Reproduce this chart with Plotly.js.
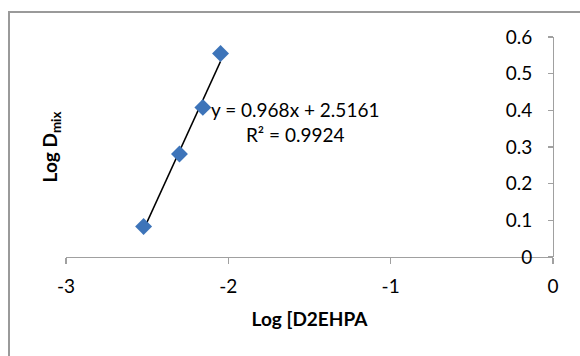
<!DOCTYPE html>
<html>
<head>
<meta charset="utf-8">
<script src="https://cdn.plot.ly/plotly-3.0.1.min.js"></script>
<style>
  html, body { margin: 0; padding: 0; width: 580px; height: 356px; overflow: hidden; background: #fff; }
  #frame { position: absolute; left: 8px; top: 11px; width: 620px; height: 400px; border: 2px solid #9a9a9a; box-sizing: border-box; }
  #chart { position: absolute; left: 0; top: 0; width: 580px; height: 356px; }
</style>
</head>
<body>
<div id="frame"></div>
<div id="chart"></div>
<script>
// Data
const logD2EHPA = [-2.522, -2.301, -2.157, -2.048];
const logDmix = [0.083, 0.281, 0.408, 0.555];
// Linear trendline shown on the chart
const trendSlope = 0.968;
const trendIntercept = 2.5161;
const trendR2 = 0.9924;
const xTicks = [-3, -2, -1, 0];
const yTicks = [0, 0.1, 0.2, 0.3, 0.4, 0.5, 0.6];

const xMin = Math.min(...logD2EHPA), xMax = Math.max(...logD2EHPA);
const trendX = [xMin, xMax];
const trendY = trendX.map(x => trendSlope * x + trendIntercept);

const font = "Lato, 'Open Sans', sans-serif";
const fs = 19;

const traces = [
  {
    x: trendX, y: trendY, type: 'scatter', mode: 'lines',
    line: { color: '#000000', width: 1.5 }, hoverinfo: 'skip', showlegend: false
  },
  {
    x: logD2EHPA, y: logDmix, type: 'scatter', mode: 'markers',
    marker: { symbol: 'diamond', size: 13, color: '#3d74b9', line: { width: 0 } },
    showlegend: false, cliponaxis: false
  }
];

const layout = {
  width: 580, height: 356,
  margin: { l: 66, r: 27, t: 37, b: 99 },
  paper_bgcolor: 'rgba(0,0,0,0)', plot_bgcolor: 'rgba(0,0,0,0)',
  font: { family: font, size: fs, color: '#000' },
  showlegend: false,
  xaxis: {
    range: [-3, 0], tickvals: xTicks, ticktext: xTicks.map(String),
    showgrid: false, zeroline: false, showline: true, linecolor: '#a0a0a0', linewidth: 1.2,
    ticks: 'outside', ticklen: 6, tickcolor: '#a0a0a0', tickwidth: 1.2,
    ticklabelstandoff: 6,
    tickfont: { family: font, size: fs },
    title: { text: '<b>Log [D2EHPA</b>', font: { family: font, size: fs }, standoff: 16 }
  },
  yaxis: {
    range: [0, 0.6], tickvals: yTicks, ticktext: yTicks.map(String),
    anchor: 'free', position: 1, side: 'left',
    showgrid: false, zeroline: false, showline: true, linecolor: '#a0a0a0', linewidth: 1.2,
    ticks: 'outside', ticklen: 5, tickcolor: '#a0a0a0', tickwidth: 1.2,
    ticklabelstandoff: 12,
    tickfont: { family: font, size: fs }
  },
  annotations: [
    {
      xref: 'paper', yref: 'paper', x: -0.03, y: 0.5, xanchor: 'center', yanchor: 'middle',
      text: '<b>Log D<sub>mix</sub></b>', textangle: -90, showarrow: false,
      font: { family: font, size: fs }
    },
    {
      xref: 'x', yref: 'y', x: -1.59, y: 0.368, xanchor: 'center', yanchor: 'middle',
      text: 'y = ' + trendSlope + 'x + ' + trendIntercept + '<br>R² = ' + trendR2,
      showarrow: false, align: 'center', font: { family: font, size: fs }
    }
  ]
};

Plotly.newPlot('chart', traces, layout, { displayModeBar: false, staticPlot: true });
</script>
</body>
</html>
